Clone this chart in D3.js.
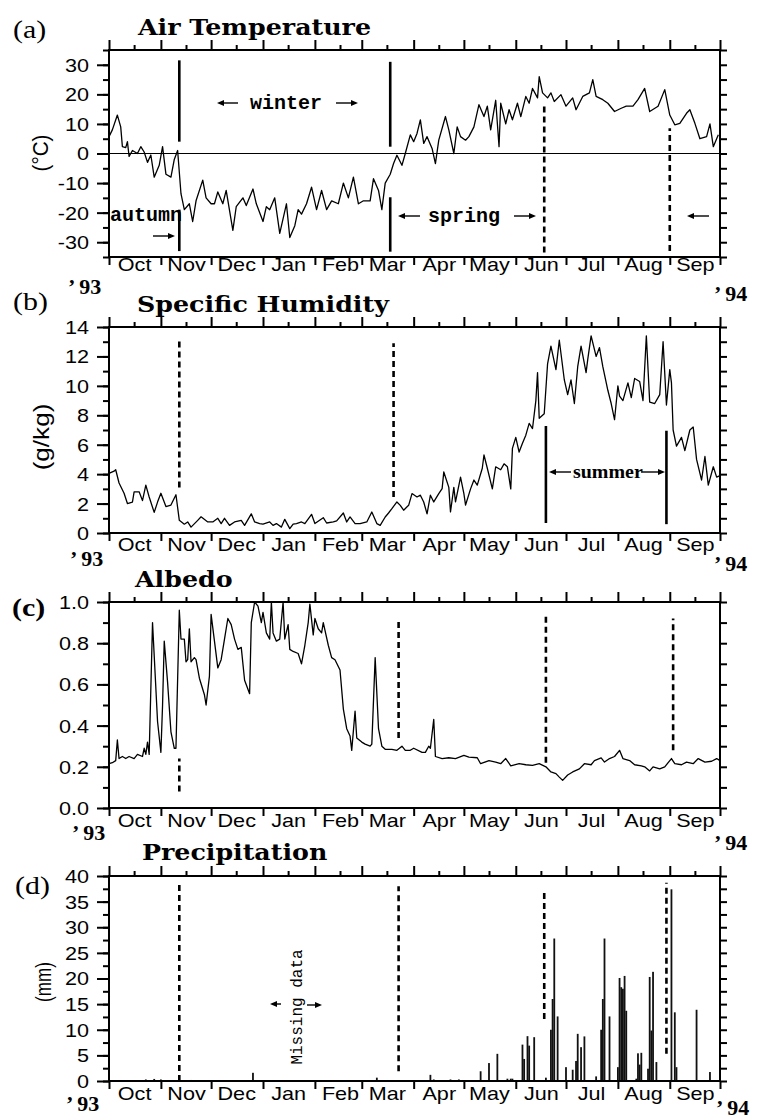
<!DOCTYPE html>
<html>
<head>
<meta charset="utf-8">
<script src="https://cdn.jsdelivr.net/npm/d3@7"></script>
<style>
body { margin: 0; background: #fff; }
svg { display: block; background: #fff; }
</style>
</head>
<body>
<script>
// values; day = days after 1 Oct 1993
var tempDay = [0,2,5,7,8,10,11,12,14,17,19,21,23,25,27,30,32,34,37,39,41,43,45,48,50,52,56,58,61,63,
  65,68,70,74,76,80,82,86,88,92,94,96,99,102,106,108,111,113,115,118,121,124,127,130,133,137,140,143,146,149,
  152,156,158,161,163,165,168,170,172,175,177,180,182,184,186,188,190,193,195,197,201,203,206,208,210,213,215,218,221,224,
  226,228,231,233,234,237,239,241,244,246,249,251,253,256,257,259,262,264,266,270,273,277,279,283,287,289,291,295,298,302,
  306,309,313,316,320,323,328,332,335,338,341,345,347,350,353,357,359,361,364];
var tempVal = [5.7,8,13,9,2.3,2,4,-1,1,0,2.3,0.5,-3,-0.5,-8,-4,2.3,-7,-8,-2,1,-13.6,-19,-17,-23,-16,-9,-15,-17,-17,
  -13,-17,-12.5,-26,-18,-15,-17.6,-12,-17,-23,-18,-19,-15,-27,-17,-28.4,-24.4,-19,-20.5,-17,-11.4,-19,-12.5,-19,-16,-17,-10,-15,-8,-17,
  -16,-16,-8.5,-12.5,-19,-10,-7,-3.4,-0.6,-4,0,6.3,4,6.8,11.4,3.4,5.7,1.7,-3.4,4.5,12.5,8,0,9,5.7,4.5,5.7,9,16.5,12.5,
  16,8,18,2.3,17,10,14.8,11.4,17,12.5,19.3,17,22,18.8,26,20.5,18.8,20.5,17.6,19.9,16,18.8,14.8,19.3,20.5,25,19.3,18.2,17,14.2,
  15.3,16,16,18.2,22,14.2,16,21.6,13,9.7,10.2,13.6,14.8,10.2,5,5.7,10,2.3,6.3];

var humDay = [0,3,4,6,9,11,14,15,18,20,22,24,27,29,31,34,37,40,42,45,47,49,53,55,59,62,65,67,69,72,
  75,79,81,85,87,90,92,96,98,100,103,105,108,110,112,115,117,121,123,128,130,134,136,140,142,144,147,150,154,157,
  160,162,165,167,169,172,174,176,179,181,184,186,188,190,192,194,197,199,200,203,204,206,207,210,212,213,216,218,220,223,
  224,226,229,231,234,236,238,240,241,243,245,247,249,251,253,255,256,257,260,262,264,267,269,272,274,276,278,280,282,285,
  286,288,291,293,295,298,300,302,304,305,307,310,312,314,317,319,321,323,326,329,331,333,335,336,337,339,342,344,347,349,
  351,354,356,358,361,363,365];
var humVal = [4.05,4.2,4.3,3.4,2.7,2.0,2.1,2.8,2.8,2.2,3.25,2.45,1.4,2.1,2.7,1.8,1.9,2.6,0.86,0.6,0.75,0.4,0.86,1.1,0.75,0.75,1.0,0.64,1.0,0.52,
  0.75,0.86,0.52,1.3,0.75,0.64,0.6,0.75,0.52,0.64,0.4,0.93,0.3,0.6,0.64,0.75,0.64,1.27,0.64,1.04,0.68,0.75,0.82,1.36,0.75,1.09,0.64,0.64,0.75,1.43,
  0.64,0.52,1.09,1.36,1.65,2.11,1.88,1.55,1.88,2.68,2.45,2.57,2.11,1.3,2.57,2.11,2.68,3.02,4.15,3.1,1.43,3.1,2.11,3.8,2.68,1.9,3.0,3.6,3.25,4.4,
  5.3,4.4,3.0,4.5,4.3,4.7,4.5,3.0,5.75,6.5,5.5,6.1,6.65,7.45,7.1,9.0,10.9,7.8,8.1,11.5,12.7,11.1,13.1,10.4,9.4,10.4,8.8,11.3,12.7,10.9,
  11.8,13.4,12.0,12.6,11.3,9.7,8.8,7.7,10.0,9.3,9.0,10.2,9.2,10.5,10.3,9.0,13.4,8.9,8.8,9.4,13.0,8.7,11.1,10.2,7.0,5.9,6.5,5.6,7.0,7.2,
  5.0,3.6,5.2,3.25,4.5,3.8,3.9];

var albDay = [0,2,4,5,6,8,10,12,15,17,20,21,22,23,24,26,27,29,31,32,33,35,37,39,40,42,43,45,46,47,
  48,49,51,52,54,57,58,60,61,63,65,67,69,71,73,75,77,79,81,84,85,87,89,91,92,94,96,97,98,100,
  102,104,105,107,108,110,113,115,117,119,120,122,123,125,127,128,131,133,135,138,140,142,144,145,147,148,151,153,156,157,
  159,161,163,165,169,172,175,177,180,182,187,189,191,192,194,195,199,203,207,212,215,220,222,227,231,234,237,240,245,249,
  253,257,261,264,267,269,271,274,277,281,284,288,290,294,296,299,302,305,307,311,314,318,320,323,325,329,332,336,338,342,
  345,349,352,356,360,363,365];
var albVal = [0.215,0.22,0.23,0.33,0.24,0.25,0.24,0.25,0.24,0.26,0.25,0.29,0.26,0.32,0.26,0.90,0.74,0.42,0.27,0.50,0.81,0.61,0.37,0.29,0.29,0.96,0.82,0.82,0.71,0.72,
  0.87,0.71,0.73,0.72,0.63,0.55,0.50,0.64,0.94,0.81,0.68,0.72,0.82,0.92,0.89,0.82,0.77,0.78,0.62,0.555,0.90,1.0,0.98,0.90,0.95,0.85,0.82,1.0,0.85,0.81,
  0.82,1.0,0.82,0.89,0.77,0.76,0.75,0.70,0.79,0.90,0.99,0.84,0.92,0.87,0.85,0.90,0.79,0.73,0.72,0.67,0.48,0.385,0.35,0.28,0.47,0.34,0.32,0.31,0.30,0.31,
  0.73,0.385,0.30,0.285,0.285,0.28,0.30,0.28,0.28,0.29,0.27,0.27,0.30,0.29,0.43,0.25,0.24,0.244,0.24,0.255,0.247,0.244,0.215,0.23,0.223,0.215,0.24,0.205,0.215,0.21,
  0.207,0.215,0.20,0.175,0.167,0.15,0.134,0.16,0.175,0.19,0.215,0.21,0.23,0.243,0.223,0.24,0.25,0.28,0.24,0.23,0.21,0.205,0.20,0.18,0.20,0.19,0.20,0.24,0.215,0.21,
  0.223,0.215,0.24,0.223,0.227,0.24,0.23];

var precDay = [22,27,31,49,86,160,192,194,204,209,222,227,232,238,240,241,247,248,250,251,
  254,261,264,265,266,268,273,277,279,280,282,284,291,294,295,296,299,304,305,306,
  307,308,309,315,316,317,318,322,323,324,325,327,336,338,339,351,359];
var precVal = [0.3,0.4,0.3,0.2,1.6,0.65,1.2,0.3,0.3,0.3,1.9,3.5,5.3,0.45,0.45,0.45,7.1,4.3,8.75,6.9,
  8.55,0.65,10,16,27.8,12.6,2.7,2.2,3.9,9.2,6.6,8.7,0.9,10,16,27.8,12.6,2.7,20.1,18.3,
  18,20.5,13.7,0.45,5.4,3.2,5.5,2.4,20.3,9.85,21.3,3.7,37.4,13.4,2.7,13.9,1.75];

var monthNames = ["Oct","Nov","Dec","Jan","Feb","Mar","Apr","May","Jun","Jul","Aug","Sep"];

// season boundary marks: [day, from, to, dashed]
var marksA = [[42,4,31.5,0],[42,-33,-19,0],[168,2.3,31,0],[168,-33.2,-14.8,0],[260,-33.5,16.5,1],[335,-33,8.5,1]];
var marksB = [[42,3.1,13.1,1],[170,2.45,12.9,1],[261,0.68,7.27,0],[333,0.6,6.95,0]];
var marksC = [[42,0.08,0.24,1],[173,0.34,0.92,1],[261,0.22,0.935,1],[337,0.28,0.92,1]];
var marksD = [[42,0,38.4,1],[173,1.9,38,1],[260,12.1,37.4,1],[333,5.3,38.7,1]];

var SX = 1.2; // the scanned figure is stretched sideways
var SANS = "'Liberation Sans', Arial, sans-serif",
    SERIF = "'Liberation Serif', 'Times New Roman', serif",
    TITLE = "'DejaVu Serif', serif",
    MONO = "'Liberation Mono', 'Courier New', monospace";

var svg = d3.select("body").append("svg")
    .attr("width", 762)
    .attr("height", 1120);

var start = new Date(1993, 9, 1), end = new Date(1994, 9, 1);
var xL = 109, xR = 720;
var xs = d3.scaleTime().domain([start, end]).range([xL, xR]);
function dt(d) { return d3.timeDay.offset(start, d); }

var monthStarts = d3.timeMonth.range(start, d3.timeDay.offset(end, 1));
var midMonths = monthStarts.slice(0, 12).map(function(m) { return d3.timeDay.offset(m, 15); });
var blank = function() { return ""; };

function label(px, py, s, font, size, weight, anchor, sx) {
    return svg.append("text")
        .attr("transform", "translate(" + px + "," + py + ") scale(" + (sx || SX) + ",1)")
        .attr("font-family", font)
        .attr("font-size", size)
        .attr("font-weight", weight || "normal")
        .attr("text-anchor", anchor || "start")
        .text(s);
}

function arrow(xa, xb, ya) {   // line from xa to head at xb
    var dir = xb > xa ? 1 : -1;
    svg.append("line").attr("x1", xa).attr("x2", xb - dir * 4).attr("y1", ya).attr("y2", ya)
        .attr("stroke", "#000").attr("stroke-width", 1.4);
    svg.append("path")
        .attr("d", "M" + xb + "," + ya + "L" + (xb - dir * 7) + "," + (ya - 3) + "L" + (xb - dir * 7) + "," + (ya + 3) + "Z")
        .attr("fill", "#000");
}

var panels = [
  {id: "(a)", idX: 13, idY: 38, idW: "normal", title: "Air Temperature", tX: 138, tY: 35,
   top: 50, bottom: 257, dom: [-35, 35], major: [-30,-20,-10,0,10,20,30], minor: d3.range(-35, 36, 5),
   fmt: String, unit: "(°C)", uX: 40, uY: 153, uS: 1.15, labY: 271, y93: [68, 294], y94: [714, 301],
   days: tempDay, vals: tempVal, kind: "line", marks: marksA, zero: true},
  {id: "(b)", idX: 13, idY: 310, idW: "normal", title: "Specific Humidity", tX: 137, tY: 312,
   top: 327, bottom: 533, dom: [0, 14], major: d3.range(0, 15, 2), minor: d3.range(0, 15, 1),
   fmt: String, unit: "(g/kg)", uX: 41, uY: 437, uS: 1.45, labY: 551, y93: [70, 566], y94: [714, 571],
   days: humDay, vals: humVal, kind: "line", marks: marksB},
  {id: "(c)", idX: 12, idY: 616, idW: "bold", title: "Albedo", tX: 135, tY: 587,
   top: 602, bottom: 808, dom: [0, 1], major: [0, 0.2, 0.4, 0.6, 0.8, 1], minor: d3.range(0, 11).map(function(i) { return i / 10; }),
   fmt: d3.format(".1f"), unit: null, labY: 827, y93: [72, 840], y94: [714, 850],
   days: albDay, vals: albVal, kind: "line", marks: marksC},
  {id: "(d)", idX: 15, idY: 894, idW: "normal", title: "Precipitation", tX: 142, tY: 860,
   top: 876, bottom: 1081, dom: [0, 40], major: d3.range(0, 41, 5), minor: d3.range(0, 41, 2.5),
   fmt: String, unit: "(mm)", uX: 43, uY: 982, uS: 0.95, labY: 1100, y93: [66, 1111], y94: [716, 1115],
   days: precDay, vals: precVal, kind: "bar", marks: marksD}
];

function drawPanel(p) {
    var ys = d3.scaleLinear().domain(p.dom).range([p.bottom, p.top]);
    var g = svg.append("g");

    function addAxis(ax, tx, ty, w) {
        var s = g.append("g").attr("transform", "translate(" + tx + "," + ty + ")");
        s.call(ax);
        s.select(".domain").remove();
        s.selectAll(".tick line").attr("stroke", "#000").attr("stroke-width", w || 2);
        return s;
    }

    // tick marks on all four sides
    addAxis(d3.axisLeft(ys).tickValues(p.minor).tickSize(6).tickFormat(blank), xL, 0);
    addAxis(d3.axisRight(ys).tickValues(p.minor).tickSize(7).tickFormat(blank), xR, 0);
    addAxis(d3.axisTop(xs).tickValues(monthStarts).tickSize(10).tickFormat(blank), 0, p.top);
    addAxis(d3.axisTop(xs).tickValues(midMonths).tickSize(5).tickFormat(blank), 0, p.top);
    addAxis(d3.axisBottom(xs).tickValues(monthStarts).tickSize(8).tickFormat(blank), 0, p.bottom);

    // labelled left axis and month names
    var la = addAxis(d3.axisLeft(ys).tickValues(p.major).tickSize(12).tickFormat(p.fmt), xL, 0)
        .attr("font-family", SANS).attr("font-size", 18);
    la.selectAll("text").attr("x", null).attr("dy", "0.36em")
        .attr("transform", "translate(-20,0) scale(" + SX + ",1)");

    var ba = addAxis(d3.axisBottom(xs).tickValues(midMonths).tickSize(0)
            .tickFormat(function(d, i) { return monthNames[i]; }), 0, p.bottom)
        .attr("font-family", SANS).attr("font-size", 18);
    ba.selectAll("text").attr("y", null).attr("dy", null)
        .attr("transform", "translate(0," + (p.labY - p.bottom) + ") scale(" + SX + ",1)");

    if (p.zero) {
        g.append("line").attr("x1", xL).attr("x2", xR).attr("y1", ys(0)).attr("y2", ys(0))
            .attr("stroke", "#000").attr("stroke-width", 1);
    }

    var pts = p.days.map(function(d, i) { return [d, p.vals[i]]; });
    if (p.kind === "line") {
        g.append("path")
            .datum(pts)
            .attr("fill", "none")
            .attr("stroke", "#000")
            .attr("stroke-width", 1.3)
            .attr("stroke-linejoin", "round")
            .attr("d", d3.line()
                .x(function(d) { return xs(dt(d[0])); })
                .y(function(d) { return ys(d[1]); }));
    } else {
        g.selectAll("rect.bar")
            .data(pts)
          .enter().append("rect")
            .attr("class", "bar")
            .attr("x", function(d) { return xs(dt(d[0])) - 0.9; })
            .attr("width", 1.8)
            .attr("y", function(d) { return ys(d[1]); })
            .attr("height", function(d) { return ys(0) - ys(d[1]); })
            .attr("fill", "#111");
    }

    g.selectAll("line.mark")
        .data(p.marks)
      .enter().append("line")
        .attr("class", "mark")
        .attr("x1", function(d) { return xs(dt(d[0])); })
        .attr("x2", function(d) { return xs(dt(d[0])); })
        .attr("y1", function(d) { return ys(d[1]); })
        .attr("y2", function(d) { return ys(d[2]); })
        .attr("stroke", "#000")
        .attr("stroke-width", 2.6)
        .attr("stroke-dasharray", function(d) { return d[3] ? "6,4" : null; });

    g.append("rect")
        .attr("x", xL).attr("y", p.top)
        .attr("width", xR - xL).attr("height", p.bottom - p.top)
        .attr("fill", "none").attr("stroke", "#000").attr("stroke-width", 2);

    label(p.idX, p.idY, p.id, SERIF, 26, p.idW, "start", 1.15);
    label(p.tX, p.tY, p.title, TITLE, 22, "bold", "start", 1.15);
    label(p.y93[0], p.y93[1], "\u2019 93", SERIF, 20, "bold", "start", 1.1);
    label(p.y94[0], p.y94[1], "\u2019 94", SERIF, 20, "bold", "start", 1.1);
    if (p.unit) {
        svg.append("text")
            .attr("transform", "translate(" + p.uX + "," + p.uY + ") rotate(-90) scale(" + p.uS + ",1.2)")
            .attr("font-family", SANS).attr("font-size", 18)
            .attr("text-anchor", "middle").attr("dy", "0.35em")
            .text(p.unit);
    }
}

panels.forEach(drawPanel);

// season annotations
label(250, 109, "winter", MONO, 20, "bold", "start", 1);
arrow(238, 217, 103);
arrow(336, 358, 103);
label(110, 221, "autumn", MONO, 20, "bold", "start", 1);
arrow(153, 175, 236);
label(428, 222, "spring", MONO, 20, "bold", "start", 1);
arrow(420, 398, 216);
arrow(514, 536, 216);
arrow(709, 687, 216);
label(573, 478, "summer", SERIF, 19, "bold", "start", 1.05);
arrow(571, 549, 472);
arrow(641, 665, 472);

svg.append("text")
    .attr("transform", "translate(296,1007) rotate(-90)")
    .attr("font-family", MONO).attr("font-size", 16)
    .attr("text-anchor", "middle").attr("dy", "0.35em")
    .text("Missing data");
arrow(281, 270, 1004);
arrow(307, 322, 1005);
</script>
</body>
</html>
